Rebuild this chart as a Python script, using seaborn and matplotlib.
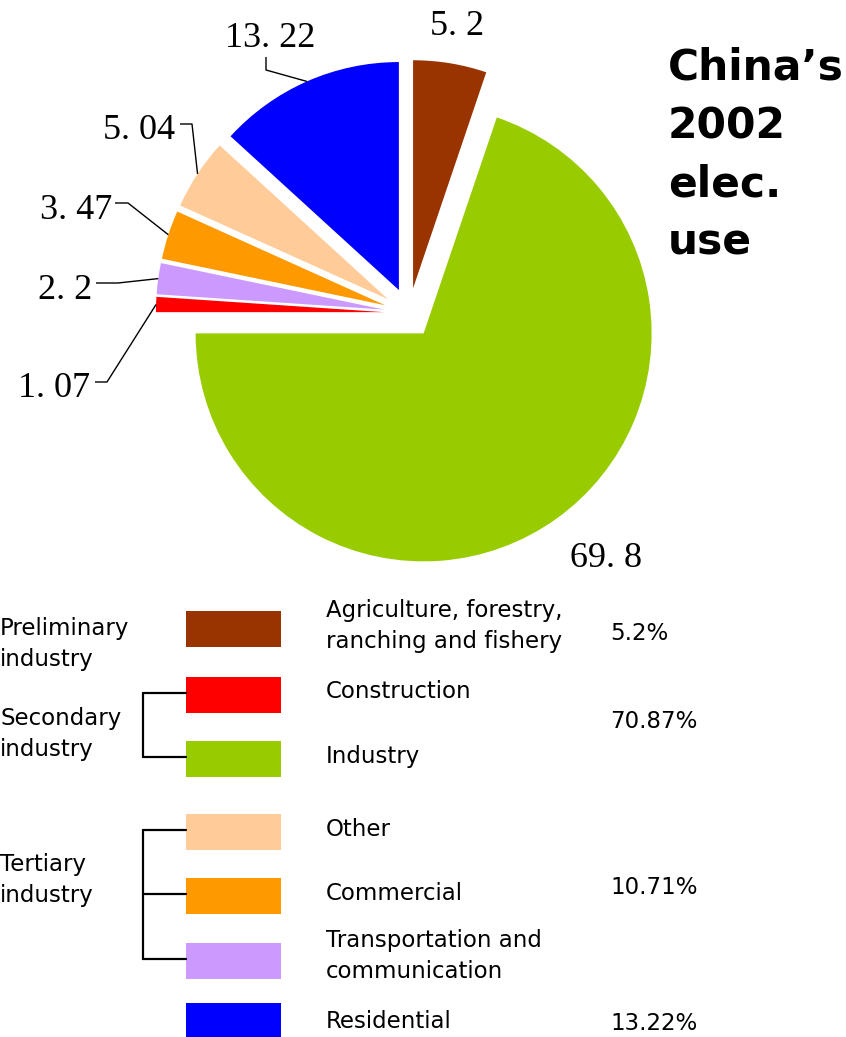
import numpy as np
import matplotlib
matplotlib.use("Agg")
import matplotlib.pyplot as plt
from matplotlib.patches import Rectangle
import seaborn as sns

# China's 2002 electricity use by sector (%), clockwise from 12 o'clock
sectors = ["Agriculture, forestry,\nranching and fishery", "Industry", "Construction",
           "Transportation and\ncommunication", "Commercial", "Other", "Residential"]
shares = [5.2, 69.8, 1.07, 2.2, 3.47, 5.04, 13.22]
colors = ["#993300", "#99CC00", "#FF0000", "#CC99FF", "#FF9900", "#FFCC99", "#0000FF"]

# Legend rows (top to bottom) and the industry groups they belong to
legend_order = ["Agriculture, forestry,\nranching and fishery", "Construction", "Industry",
                "Other", "Commercial", "Transportation and\ncommunication", "Residential"]
groups = {
    "Preliminary\nindustry": ["Agriculture, forestry,\nranching and fishery"],
    "Secondary\nindustry": ["Construction", "Industry"],
    "Tertiary\nindustry": ["Other", "Commercial", "Transportation and\ncommunication"],
    "": ["Residential"],
}

sns.set_theme(style="white")
palette = sns.color_palette(colors)
plt.rcParams["font.family"] = ["DejaVu Sans"]
plt.rcParams["text.color"] = "black"

W, H = 846, 1037
fig = plt.figure(figsize=(W / 100, H / 100), dpi=100)
ax = fig.add_axes([0, 0, 1, 1])


def P(x, y):
    """Canvas position measured from the top-left corner."""
    return x, H - y


R = 228
cx, cy = P(409, 313)
wedges, _ = ax.pie(shares, colors=palette, startangle=90, counterclock=False,
                   radius=R, center=(cx, cy), explode=[0.11 * R] * len(shares),
                   wedgeprops=dict(linewidth=0))
ax.set_xlim(0, W)
ax.set_ylim(0, H)
ax.set_aspect("equal")
ax.axis("off")

# Value labels with elbow leader lines to the middle of each arc
label_layout = {
    "Agriculture, forestry,\nranching and fishery": dict(text=(430, 35)),
    "Industry": dict(text=(570, 567)),
    "Construction": dict(text=(18, 397), lead=[(95, 382), (107, 382)]),
    "Transportation and\ncommunication": dict(text=(38, 299), lead=[(96, 283), (118, 283)]),
    "Commercial": dict(text=(40, 219), lead=[(115, 203), (128, 203)]),
    "Other": dict(text=(103, 139), lead=[(180, 124), (192, 124)]),
    "Residential": dict(text=(225, 47), lead=[(266, 57), (266, 70)]),
}
for name, val, w in zip(sectors, shares, wedges):
    lay = label_layout[name]
    txt = f"{val:g}".replace(".", ". ")
    ax.text(*P(*lay["text"]), txt, family=["Liberation Serif", "DejaVu Serif"],
            fontsize=26, ha="left", va="baseline", color="black")
    if "lead" in lay:
        mid = np.deg2rad((w.theta1 + w.theta2) / 2)
        end = (w.center[0] + w.r * np.cos(mid), w.center[1] + w.r * np.sin(mid))
        pts = [P(*p) for p in lay["lead"]] + [end]
        xs, ys = zip(*pts)
        ax.plot(xs, ys, color="black", lw=1.0, solid_capstyle="butt")

# Title
ax.text(*P(668, 47), "China\u2019s\n2002\nelec.\nuse", fontsize=30.5,
        fontweight="bold", ha="left", va="top", linespacing=1.49)

# Legend table
color_of = dict(zip(sectors, palette))
share_of = dict(zip(sectors, shares))
row_y = {
    "Agriculture, forestry,\nranching and fishery": 629,
    "Construction": 695,
    "Industry": 759,
    "Other": 832,
    "Commercial": 896,
    "Transportation and\ncommunication": 961,
    "Residential": 1021,
}
text_y = {
    "Agriculture, forestry,\nranching and fishery": 626,
    "Construction": 692,
    "Industry": 756,
    "Other": 830,
    "Commercial": 893,
    "Transportation and\ncommunication": 956,
    "Residential": 1021,
}
legend_fs = 16.5
legend_ls = 1.42
for name in legend_order:
    yc = row_y[name]
    x0, y0 = P(186, yc + 18)
    ax.add_patch(Rectangle((x0, y0), 95, 36, facecolor=color_of[name],
                           edgecolor="none", clip_on=False))
    ax.text(*P(326, text_y[name]), name, fontsize=legend_fs, ha="left",
            va="center", linespacing=legend_ls)

group_text_y = {"Preliminary\nindustry": 644, "Secondary\nindustry": 734,
                "Tertiary\nindustry": 880}
pct_y = {"Preliminary\nindustry": 633, "Secondary\nindustry": 722,
         "Tertiary\nindustry": 888, "": 1023}
for g, members in groups.items():
    total = round(sum(share_of[m] for m in members), 2)
    ax.text(*P(610, pct_y[g]), f"{total:g}%", fontsize=legend_fs, ha="left", va="center")
    if g:
        ax.text(*P(0, group_text_y[g]), g, fontsize=legend_fs, ha="left",
                va="center", linespacing=legend_ls)
    if len(members) > 1:
        ys = [row_y[m] - 2 for m in members]
        top, bot = min(ys), max(ys)
        ax.plot(*zip(P(143, top), P(143, bot)), color="black", lw=1.6)
        for yy in ys:
            ax.plot(*zip(P(143, yy), P(186, yy)), color="black", lw=1.6)

fig.savefig("out.png", dpi=100)
